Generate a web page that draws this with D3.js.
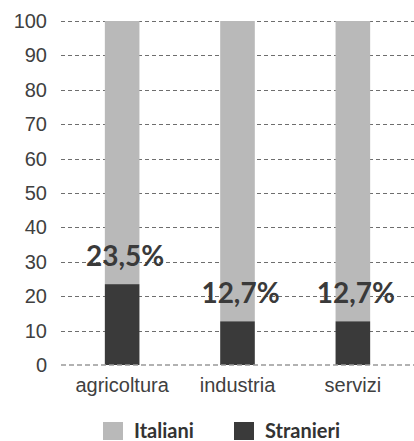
<!DOCTYPE html>
<html><head><meta charset="utf-8">
<script src="https://cdn.jsdelivr.net/npm/d3@7"></script>
<style>body{margin:0;background:#fff}svg{display:block}</style>
</head><body><svg id="c" width="414" height="441"></svg>
<script>
const categories = ["agricoltura", "industria", "servizi"];
const stranieri = [23.5, 12.7, 12.7];
const italiani = [76.5, 87.3, 87.3];
const labels = ["23,5%", "12,7%", "12,7%"];
const yTicks = [0, 10, 20, 30, 40, 50, 60, 70, 80, 90, 100];
const seriesNames = ["Italiani", "Stranieri"];
const colors = {Italiani: "#b9b9b9", Stranieri: "#3a3a3a"};

const svg = d3.select("#c");
const x = d3.scaleBand().domain(categories).range([61, 414]).paddingInner(0.7).paddingOuter(0.38);
const y = d3.scaleLinear().domain([0, 100]).range([365, 21]);

// grid
const grid = svg.append("g");
grid.selectAll("line").data(yTicks.filter(d => d > 0)).join("line")
  .attr("x1", 61).attr("x2", 414)
  .attr("y1", d => Math.round(y(d)) + 0.5).attr("y2", d => Math.round(y(d)) + 0.5)
  .attr("stroke", "#6e6e6e").attr("stroke-width", 1).attr("stroke-dasharray", "4,3");

// y axis labels
const yAxis = d3.axisLeft(y).tickValues(yTicks).tickSize(0).tickPadding(0);
const ya = svg.append("g").attr("transform", "translate(47,0)").call(yAxis);
ya.select(".domain").remove();
ya.selectAll("text").attr("font-family", "Liberation Sans, Arial, sans-serif")
  .attr("font-size", 20).attr("fill", "#404040");

const data = categories.map((c, i) => ({c, s: stranieri[i], it: italiani[i], label: labels[i]}));

// bars
svg.append("g").selectAll("rect").data(data).join("rect")
  .attr("x", d => x(d.c)).attr("width", x.bandwidth())
  .attr("y", d => y(d.s + d.it)).attr("height", d => y(d.s) - y(d.s + d.it))
  .attr("fill", colors.Italiani);
svg.append("g").selectAll("rect").data(data).join("rect")
  .attr("x", d => x(d.c)).attr("width", x.bandwidth())
  .attr("y", d => y(d.s)).attr("height", d => y(0) - y(d.s))
  .attr("fill", colors.Stranieri);

// zero line
svg.append("line").attr("x1", 61).attr("x2", 414).attr("y1", y(0)).attr("y2", y(0))
  .attr("stroke", "#999").attr("stroke-width", 1.5).attr("stroke-dasharray", "5,3");

// x axis labels
const xAxis = d3.axisBottom(x).tickSize(0).tickPadding(0);
const xa = svg.append("g").attr("transform", "translate(0,378)").call(xAxis);
xa.select(".domain").remove();
xa.selectAll("text").attr("font-family", "Liberation Sans, Arial, sans-serif")
  .attr("font-size", 20).attr("fill", "#404040").attr("dy", "0.71em");

// value labels
svg.append("g").selectAll("text").data(data).join("text")
  .attr("x", d => x(d.c) + x.bandwidth() / 2 + 3)
  .attr("y", d => y(d.s) - 18)
  .attr("text-anchor", "middle")
  .attr("font-family", "Lato, sans-serif").attr("font-weight", 700)
  .attr("font-size", 28).attr("fill", "#3a3a3a")
  .text(d => d.label);

// legend
const legX = d3.scaleOrdinal().domain(seriesNames).range([103, 234]);
const leg = svg.append("g").selectAll("g").data(seriesNames).join("g")
  .attr("transform", d => `translate(${legX(d)},422)`);
leg.append("rect").attr("width", 20).attr("height", 18).attr("fill", d => colors[d]);
leg.append("text").attr("x", 31).attr("y", 16)
  .attr("font-family", "Lato, sans-serif").attr("font-weight", 700)
  .attr("font-size", 20).attr("fill", "#333").text(d => d);
</script></body></html>
